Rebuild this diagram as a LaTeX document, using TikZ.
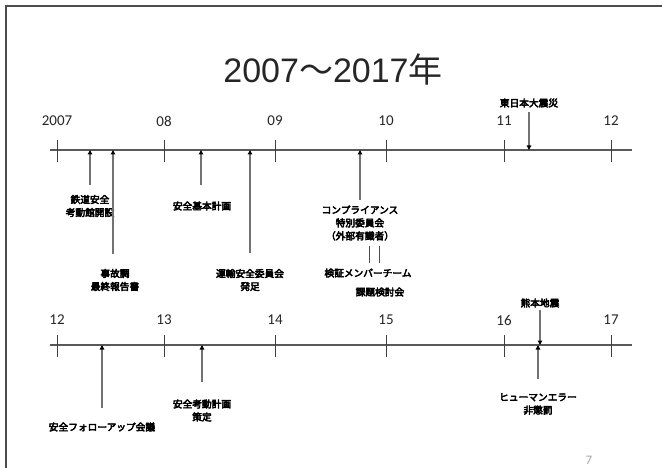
\documentclass[tikz,border=0pt]{standalone}
\usepackage{fontspec}
\usetikzlibrary{arrows.meta}
\newfontfamily\jpb{Noto Sans CJK JP}[FakeBold=4.5]
\newfontfamily\jpr{Noto Sans CJK JP}
\newfontfamily\ttl{Liberation Sans}
\newfontfamily\yr{Carlito}
\tikzset{
  frameline/.style={draw=black!70, line width=1.3pt},
  axis/.style={draw=black!65, line width=1.2pt},
  tick/.style={draw=black!75, line width=1pt},
  evarrow/.style={draw=black!55, line width=1.3pt, -{Triangle[length=4.5pt,width=4.5pt,color=black]}},
  plainline/.style={draw=black!70, line width=1pt},
  yearlbl/.style={font=\yr\fontsize{15}{15}\selectfont, text=black!85, inner sep=0pt},
  evlbl/.style={font=\jpb\fontsize{9.7}{13}\selectfont, align=center, inner sep=0pt, text=black},
}
\begin{document}
\begin{tikzpicture}[x=1pt,y=-1pt]
\useasboundingbox (0,0) rectangle (662,468);
\fill[white] (0,0) rectangle (662,468);
% frame
\coordinate (fb) at (6,468);
\coordinate (fc) at (6,6);
\coordinate (fr) at (662,6);
\draw[frameline] (fb) -- (fc) -- (fr);
% title
\node[inner sep=0pt, text=black!85] (title) at (333,70) {\ttl\fontsize{34}{34}\selectfont 2007\jpr ～\ttl 2017\jpr 年};
% ===== top timeline =====
\coordinate (ta) at (50,150);
\coordinate (tb) at (632,150);
\draw[axis] (ta) -- (tb);
\foreach \x/\l/\n in {57/2007/t7, 164/08/t8, 275/09/t9, 386/10/t10, 504/11/t11, 611/12/t12}{
  \coordinate (\n a) at (\x,140);
  \coordinate (\n b) at (\x,162);
  \draw[tick] (\n a) -- (\n b);
  \node[yearlbl] (\n l) at (\x,121) {\l};
}
% events top
\coordinate (e1s) at (90,185); \coordinate (e1e) at (90,150);
\draw[evarrow] (e1s) -- (e1e);
\node[evlbl] (e1) at (90,206) {鉄道安全\\考動館開設};

\coordinate (e2s) at (113,254); \coordinate (e2e) at (113,150);
\draw[evarrow] (e2s) -- (e2e);
\node[evlbl] (e2) at (115,280) {事故調\\最終報告書};

\coordinate (e3s) at (201,185); \coordinate (e3e) at (201,150);
\draw[evarrow] (e3s) -- (e3e);
\node[evlbl] (e3) at (202,206) {安全基本計画};

\coordinate (e4s) at (250,253); \coordinate (e4e) at (250,150);
\draw[evarrow] (e4s) -- (e4e);
\node[evlbl] (e4) at (250,280) {運輸安全委員会\\発足};

\coordinate (e5s) at (360,200); \coordinate (e5e) at (360,150);
\draw[evarrow] (e5s) -- (e5e);
\node[evlbl] (e5) at (360,223) {コンプライアンス\\特別委員会\\（外部有識者）};

\coordinate (l1a) at (369,246); \coordinate (l1b) at (369,263);
\coordinate (l2a) at (379,246); \coordinate (l2b) at (379,263);
\draw[plainline] (l1a) -- (l1b);
\draw[plainline] (l2a) -- (l2b);
\node[evlbl] (e6) at (368,273) {検証メンバーチーム};
\node[evlbl] (e7) at (380,292) {課題検討会};

\node[evlbl] (e8) at (529,103) {東日本大震災};
\coordinate (e8s) at (529,112); \coordinate (e8e) at (529,150);
\draw[evarrow] (e8s) -- (e8e);

% ===== bottom timeline =====
\coordinate (ba) at (50,345);
\coordinate (bb) at (632,345);
\draw[axis] (ba) -- (bb);
\foreach \x/\l/\n in {57/12/u12, 164/13/u13, 275/14/u14, 386/15/u15, 504/16/u16, 611/17/u17}{
  \coordinate (\n a) at (\x,335);
  \coordinate (\n b) at (\x,357);
  \draw[tick] (\n a) -- (\n b);
  \node[yearlbl] (\n l) at (\x,320) {\l};
}
\coordinate (f1s) at (102,408); \coordinate (f1e) at (102,345);
\draw[evarrow] (f1s) -- (f1e);
\node[evlbl] (f1) at (102,427) {安全フォローアップ会議};

\coordinate (f2s) at (202,382); \coordinate (f2e) at (202,345);
\draw[evarrow] (f2s) -- (f2e);
\node[evlbl] (f2) at (202,410.5) {安全考動計画\\策定};

\node[evlbl] (f3) at (540,303) {熊本地震};
\coordinate (f3s) at (540,310); \coordinate (f3e) at (540,345);
\draw[evarrow] (f3s) -- (f3e);

\coordinate (f4s) at (538,379); \coordinate (f4e) at (538,345);
\draw[evarrow] (f4s) -- (f4e);
\node[evlbl] (f4) at (538,404) {ヒューマンエラー\\非懲罰};

% page number
\node[inner sep=0pt, text=black!35, font=\yr\fontsize{13}{13}\selectfont] (pg) at (589,460) {7};
\end{tikzpicture}
\end{document}
